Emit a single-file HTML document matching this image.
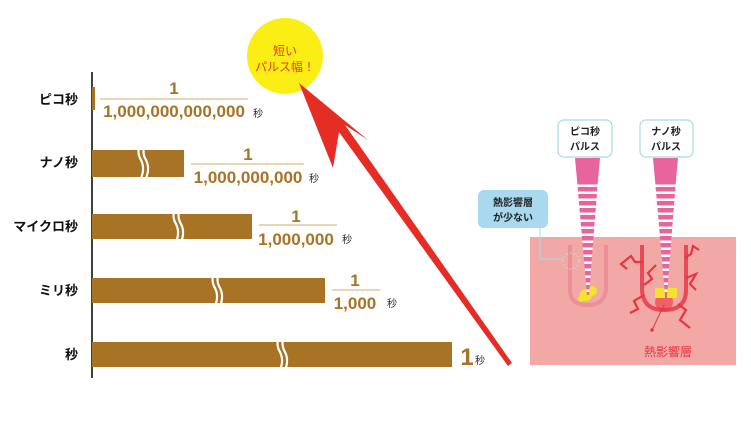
<!DOCTYPE html>
<html><head><meta charset="utf-8"><style>
html,body{margin:0;padding:0;background:#fff}
svg{display:block}
text{font-family:"Liberation Sans","Noto Sans CJK JP",sans-serif}
</style></head><body>
<svg width="751" height="436" viewBox="0 0 751 436" xmlns="http://www.w3.org/2000/svg">
<line x1="92" y1="72" x2="92" y2="378" stroke="#000" stroke-width="1.5"/>
<g font-size="13" font-weight="bold" fill="#111" text-anchor="end">
<text x="78" y="104">ピコ秒</text>
<text x="78" y="167">ナノ秒</text>
<text x="78" y="231">マイクロ秒</text>
<text x="78" y="295">ミリ秒</text>
<text x="78" y="359">秒</text>
</g>
<g fill="#a87325">
<rect x="92" y="87" width="3" height="23"/>
<rect x="92" y="150" width="92" height="27"/>
<rect x="92" y="214" width="160" height="25"/>
<rect x="92" y="278" width="233" height="25"/>
<rect x="92" y="342" width="360" height="25"/>
</g>
<g fill="none" stroke="#fff" stroke-width="2.2">
<path d="M141 142 q-5 10 0 18 q5 10 -2 22"/><path d="M146 142 q-5 10 0 18 q5 10 -2 22"/>
<path d="M176 206 q-5 10 0 18 q5 10 -2 22"/><path d="M181 206 q-5 10 0 18 q5 10 -2 22"/>
<path d="M215 270 q-5 10 0 18 q5 10 -2 22"/><path d="M220 270 q-5 10 0 18 q5 10 -2 22"/>
<path d="M280 334 q-5 10 0 18 q5 10 -2 22"/><path d="M285 334 q-5 10 0 18 q5 10 -2 22"/>
</g>
<g fill="#a87325" font-weight="bold" text-anchor="middle" font-size="17">
<text x="174" y="94">1</text>
<text x="174" y="117">1,000,000,000,000</text>
<text x="248" y="160">1</text>
<text x="248" y="183">1,000,000,000</text>
<text x="296" y="222">1</text>
<text x="296" y="245">1,000,000</text>
<text x="355" y="286">1</text>
<text x="355" y="309">1,000</text>
<text x="467" y="365" font-size="24">1</text>
</g>
<g stroke="#d9bb8a" stroke-width="1.2">
<line x1="100" y1="99" x2="248" y2="99"/>
<line x1="191" y1="164" x2="304" y2="164"/>
<line x1="259" y1="225" x2="337" y2="225"/>
<line x1="332" y1="290" x2="380" y2="290"/>
</g>
<g font-size="10" fill="#333">
<text x="253" y="117">秒</text>
<text x="309" y="182">秒</text>
<text x="342" y="243">秒</text>
<text x="387" y="307">秒</text>
<text x="475" y="364">秒</text>
</g>
<circle cx="285" cy="56" r="38" fill="#fbee14"/>
<g fill="#e83a2d" font-size="12" text-anchor="middle">
<text x="285" y="55">短い</text>
<text x="285" y="71">パルス幅！</text>
</g>
<path d="M512 363 L345 125 L368 140 L299 83 L333 168 L339 132 L508 366 Z" fill="#e52d25"/>
<rect x="530" y="237" width="206" height="128" fill="#f2a9a6"/>
<path d="M570 245 L570 290 Q570 305 588 305 Q604 305 606 290 L606 245" fill="none" stroke="#ec8f98" stroke-width="4"/>
<path d="M642 245 L642 290 Q643 310 664 310 Q686 310 686 290 L686 245" fill="none" stroke="#e84a58" stroke-width="4"/>
<g fill="none" stroke="#e8343f" stroke-width="2.2">
<path d="M643 262 l-8 0 l-4 -6 l-10 8 l6 5"/>
<path d="M685 258 l6 -4 l2 -8 l6 4"/>
<path d="M686 278 l10 -4 l-6 10 l6 6"/>
<path d="M644 295 l-10 6 l4 8 l-8 4"/>
<path d="M678 304 l8 6 l-6 10 l10 8"/>
<path d="M656 265 l-8 8 l4 6 l-8 6"/>
</g>
<circle cx="664" cy="302" r="9" fill="#e8343f" opacity=".6"/>
<g fill="#f1e42a">
<circle cx="586" cy="295" r="6"/><circle cx="592" cy="291" r="5"/><circle cx="581" cy="299" r="3"/>
<rect x="655" y="288" width="10" height="10"/><rect x="667" y="288" width="10" height="10"/>
</g>
<line x1="664" y1="305" x2="652" y2="330" stroke="#e8343f" stroke-width="1"/>
<circle cx="652" cy="330" r="1.8" fill="#e8343f"/>
<text x="668" y="356" font-size="12" fill="#e8343f" text-anchor="middle">熱影響層</text>
<circle cx="571" cy="261" r="8" fill="none" stroke="#cfd8de" stroke-dasharray="2,2"/>
<path d="M540 228 L540 259 L563 259" fill="none" stroke="#aad6ea" stroke-width="1"/>
<defs>
<pattern id="st" x="0" y="180" width="10" height="7" patternUnits="userSpaceOnUse"><rect width="10" height="7" fill="#fff"/><rect width="10" height="4.5" fill="#e8649c"/></pattern>
</defs>
<polygon points="575,158 600,158 598,180 577,180" fill="#e8649c"/>
<polygon points="577,180 598,180 589,295 587,295" fill="url(#st)"/>
<polygon points="653,158 678,158 676,180 655,180" fill="#e8649c"/>
<polygon points="655,180 676,180 667,295 665,295" fill="url(#st)"/>
<rect x="558" y="120" width="54" height="37" rx="6" fill="#fff" stroke="#a9dcdc" stroke-width="1.2"/>
<rect x="640" y="120" width="53" height="37" rx="6" fill="#fff" stroke="#a9dcdc" stroke-width="1.2"/>
<g font-size="10" font-weight="bold" fill="#222" text-anchor="middle">
<text x="585" y="135">ピコ秒</text><text x="585" y="150">パルス</text>
<text x="666" y="135">ナノ秒</text><text x="666" y="150">パルス</text>
</g>
<rect x="478" y="190" width="70" height="38" rx="6" fill="#a9d9ef"/>
<g font-size="10" font-weight="bold" fill="#222" text-anchor="middle">
<text x="513" y="206">熱影響層</text><text x="513" y="221">が少ない</text>
</g>
</svg>
</body></html>
